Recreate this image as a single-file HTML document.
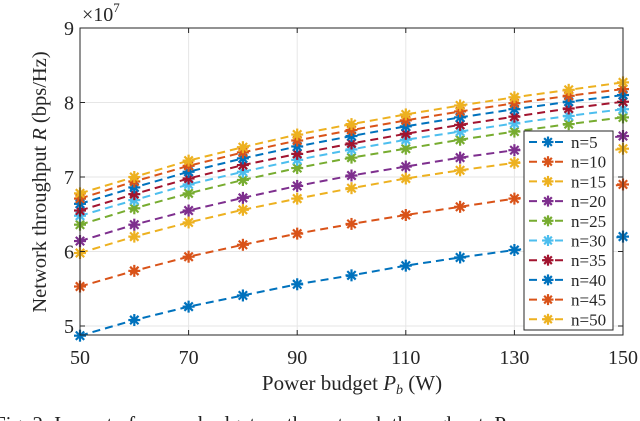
<!DOCTYPE html>
<html><head><meta charset="utf-8"><style>
html,body{margin:0;padding:0;background:#fff;width:640px;height:421px;overflow:hidden}
svg{display:block;font-family:"Liberation Serif",serif}
</style></head><body>
<svg id="chart" width="640" height="421" viewBox="0 0 640 421">
<g id="grid"></g>
<g id="series"></g>
<g id="axes"></g>
<g id="legend"></g>
<text x="82" y="21" font-size="20" fill="#262626">×10<tspan font-size="13" dy="-9">7</tspan></text>
<text x="352" y="390" font-size="21" text-anchor="middle" fill="#262626">Power budget <tspan font-style="italic">P</tspan><tspan font-style="italic" font-size="14" dy="4">b</tspan><tspan dy="-4"> (W)</tspan></text>
<text transform="translate(46,182) rotate(-90)" font-size="20.5" text-anchor="middle" fill="#262626">Network throughput <tspan font-style="italic">R</tspan> (bps/Hz)</text>
<text x="-6" y="431" font-size="21" fill="#222">Fig. 2: Impact of power budget on the network throughput, P</text>
</svg>
<script>
const xValues=[50,60,70,80,90,100,110,120,130,140,150];
const seriesNames=["n=5","n=10","n=15","n=20","n=25","n=30","n=35","n=40","n=45","n=50"];
const s5=[4.87,5.08,5.26,5.41,5.56,5.68,5.81,5.92,6.02,6.11,6.2];
const s10=[5.53,5.74,5.93,6.09,6.24,6.37,6.49,6.6,6.71,6.8,6.9];
const s15=[5.98,6.2,6.39,6.56,6.71,6.85,6.98,7.09,7.19,7.28,7.38];
const s20=[6.14,6.36,6.55,6.72,6.88,7.02,7.14,7.26,7.36,7.46,7.55];
const s25=[6.36,6.58,6.78,6.96,7.12,7.26,7.38,7.5,7.61,7.71,7.8];
const s30=[6.48,6.69,6.9,7.07,7.23,7.37,7.5,7.61,7.72,7.82,7.91];
const s35=[6.55,6.77,6.98,7.16,7.31,7.45,7.58,7.7,7.81,7.92,8.01];
const s40=[6.64,6.86,7.07,7.25,7.41,7.55,7.68,7.8,7.91,8.01,8.1];
const s45=[6.71,6.94,7.15,7.33,7.49,7.63,7.76,7.88,7.99,8.09,8.18];
const s50=[6.78,7.0,7.22,7.4,7.57,7.71,7.84,7.96,8.07,8.17,8.27];
const allSeries=[s5,s10,s15,s20,s25,s30,s35,s40,s45,s50];
const xTicks=[50,70,90,110,130,150];
const yTicks=[5,6,7,8,9];
const colors=["#0072BD","#D95319","#EDB120","#7E2F8E","#77AC30","#4DBEEE","#A2142F","#0072BD","#D95319","#EDB120"];
const L=80,R=623,T=28,B=335,xmin=50,xmax=150,ymax=9,ymin=9-(B-T)/74.5;
const X=v=>L+(v-xmin)/(xmax-xmin)*(R-L);
const Y=v=>T+(ymax-v)/(ymax-ymin)*(B-T);
const NS="http://www.w3.org/2000/svg";
function mk(t,a,p){const e=document.createElementNS(NS,t);for(const k in a)e.setAttribute(k,a[k]);p.appendChild(e);return e;}
const grid=document.getElementById('grid'),axes=document.getElementById('axes'),ser=document.getElementById('series'),leg=document.getElementById('legend');
xTicks.forEach(v=>{const l=mk('line',{x1:X(v),x2:X(v),y1:T,y2:B,stroke:'#e6e6e6','stroke-width':1},grid);


const t=mk('text',{x:X(v),y:B+29,'font-size':20,'text-anchor':'middle',fill:'#262626'},axes);t.textContent=v;


mk('line',{x1:X(v),x2:X(v),y1:B,y2:B-5,stroke:'#262626'},axes);mk('line',{x1:X(v),x2:X(v),y1:T,y2:T+5,stroke:'#262626'},axes);});
yTicks.forEach(v=>{const l=mk('line',{x1:L,x2:R,y1:Y(v),y2:Y(v),stroke:'#e6e6e6','stroke-width':1},grid);


const t=mk('text',{x:L-6,y:Y(v)+7,'font-size':20,'text-anchor':'end',fill:'#262626'},axes);t.textContent=v;


mk('line',{x1:L,x2:L+5,y1:Y(v),y2:Y(v),stroke:'#262626'},axes);mk('line',{x1:R,x2:R-5,y1:Y(v),y2:Y(v),stroke:'#262626'},axes);});
const fr=mk('rect',{x:L,y:T,width:R-L,height:B-T,fill:'none',stroke:'#262626','stroke-width':1},axes);


function star(cx,cy,c,p,r){const g=mk('g',{stroke:c,'stroke-width':2.2},p);
[[r,0],[0,r],[r*0.7,r*0.7],[r*0.7,-r*0.7]].forEach(d=>mk('line',{x1:cx-d[0],y1:cy-d[1],x2:cx+d[0],y2:cy+d[1]},g));return g;}
allSeries.forEach((s,i)=>{const g=mk('g',{},ser);


mk('polyline',{points:s.map((v,j)=>X(xValues[j])+','+Y(v)).join(' '),fill:'none',stroke:colors[i],'stroke-width':2,'stroke-dasharray':'8 5'},g);
s.forEach((v,j)=>{const m=star(X(xValues[j]),Y(v),colors[i],g,6);

});});
const lb=mk('rect',{x:524,y:131,width:89,height:199,fill:'#fff',stroke:'#262626','stroke-width':1},leg);


seriesNames.forEach((n,i)=>{const y=142+i*19.7;const g=mk('g',{},leg);


mk('line',{x1:529,x2:567,y1:y,y2:y,stroke:colors[i],'stroke-width':2,'stroke-dasharray':'8 5'},g);
star(548,y,colors[i],g,5.5);
const t=mk('text',{x:571,y:y+6,'font-size':17,fill:'#262626'},g);t.textContent=n;});
</script>
</body></html>
